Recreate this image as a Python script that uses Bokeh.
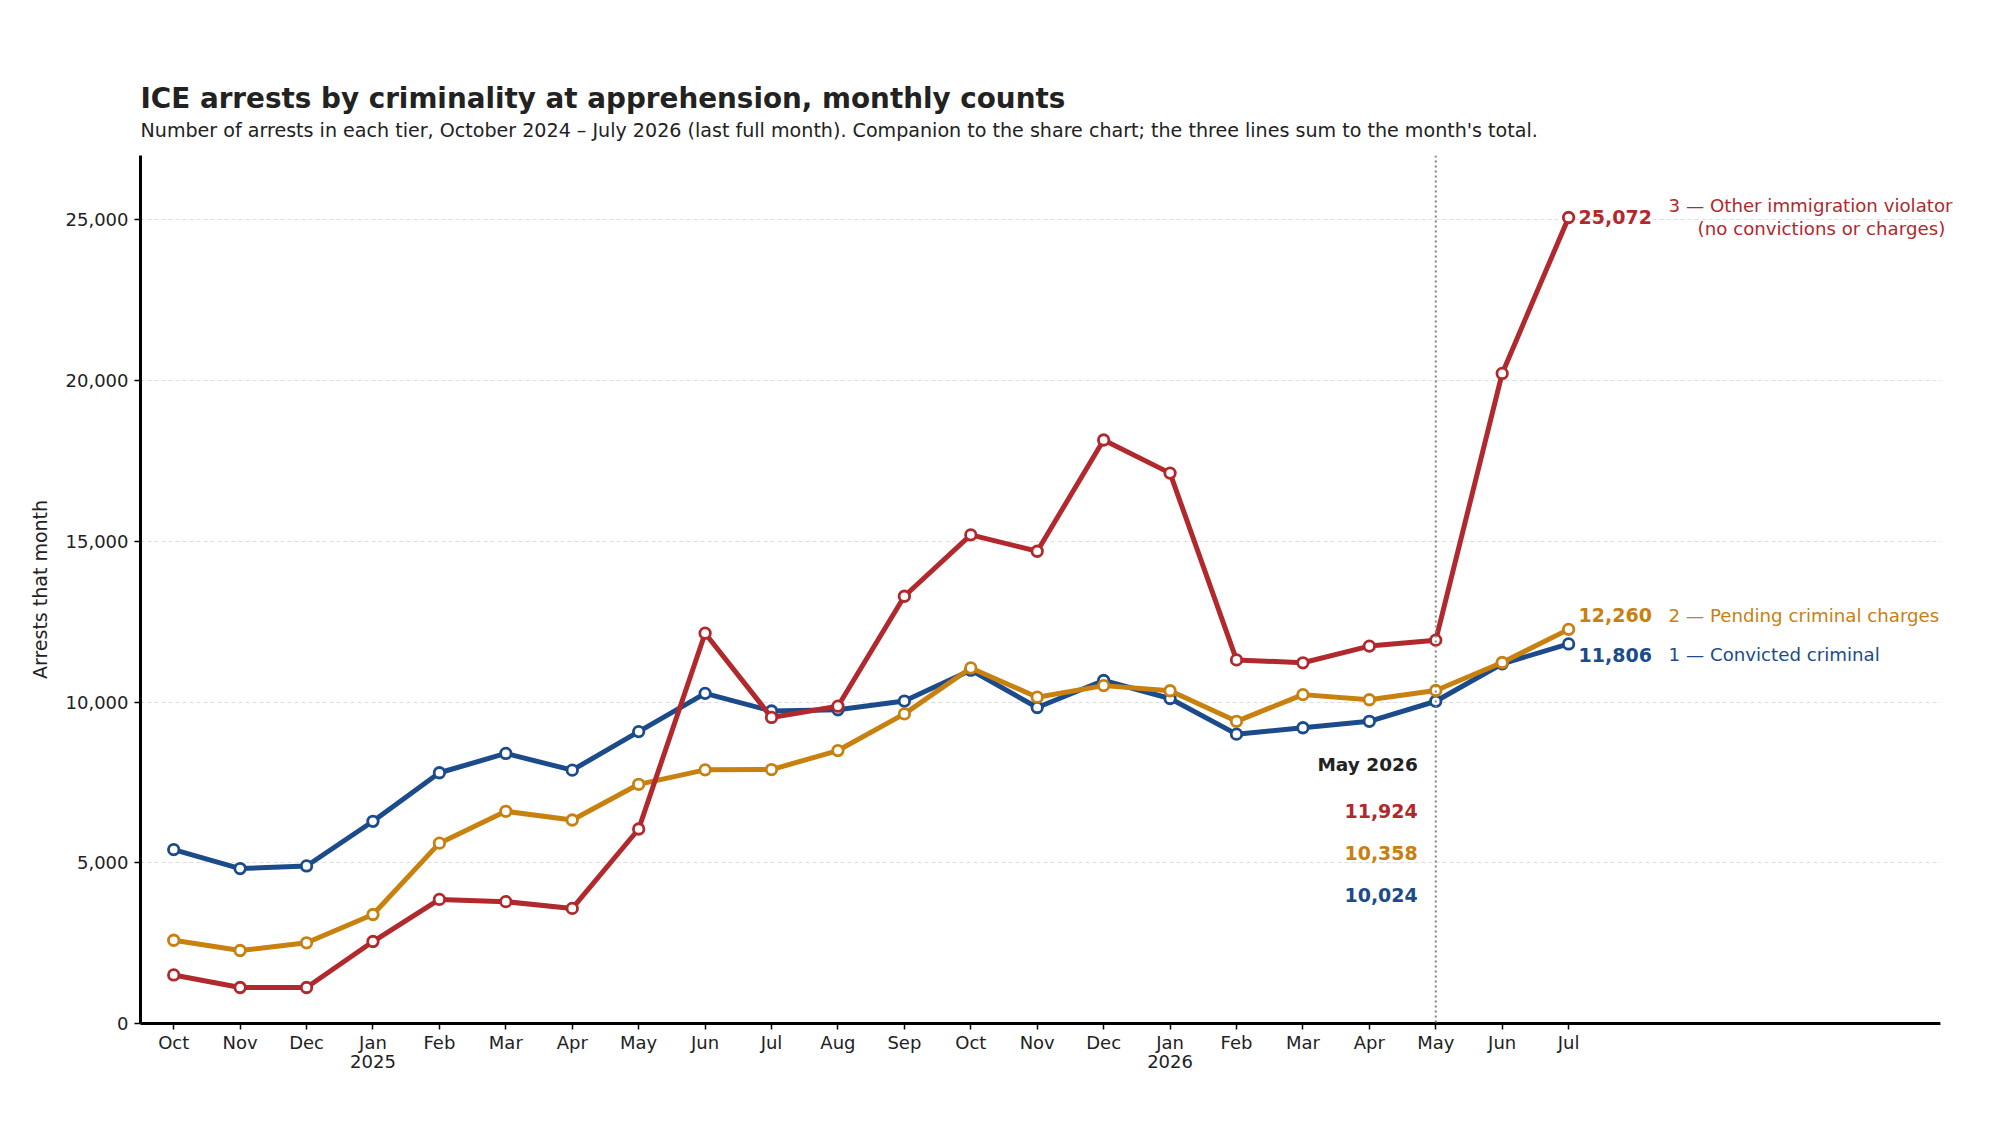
from bokeh.plotting import figure
from bokeh.models import (Range1d, FixedTicker, NumeralTickFormatter, Span, Label, Title,
                          BoxAnnotation)
from bokeh.embed import file_html
from bokeh.resources import INLINE

# monthly counts, Oct 2024 .. Jul 2026
months = ["Oct", "Nov", "Dec", "Jan\n2025", "Feb", "Mar", "Apr", "May", "Jun", "Jul", "Aug", "Sep",
          "Oct", "Nov", "Dec", "Jan\n2026", "Feb", "Mar", "Apr", "May", "Jun", "Jul"]
other = [1510, 1120, 1120, 2550, 3860, 3790, 3580, 6050, 12140, 9520, 9870, 13290,
         15200, 14690, 18150, 17120, 11310, 11220, 11740, 11924, 20220, 25072]
pending = [2590, 2270, 2510, 3390, 5610, 6600, 6330, 7440, 7890, 7900, 8490, 9630,
           11060, 10150, 10510, 10350, 9400, 10230, 10070, 10358, 11230, 12260]
convicted = [5410, 4820, 4900, 6290, 7800, 8400, 7880, 9080, 10270, 9720, 9760, 10030,
             10990, 9830, 10670, 10110, 9000, 9200, 9400, 10024, 11190, 11806]
tier_names = ["3 — Other immigration violator", "2 — Pending criminal charges", "1 — Convicted criminal"]
highlight = 19  # May 2026

FONT = "DejaVu Sans"
RED, ORANGE, BLUE = "#b1282d", "#c8800f", "#1b4b8b"
INK = "#222222"

x = list(range(len(months)))
X_END = 26.6  # where the axis and grid visibly stop; frame runs a bit wider so labels are not clipped

p = figure(width=1984, height=1109, output_backend="svg", toolbar_location=None,
           x_range=Range1d(-0.5, 26.93), y_range=Range1d(0, 27000),
           min_border_left=140, min_border_right=22, min_border_top=155, min_border_bottom=86)
p.outline_line_color = None
p.background_fill_color = "white"

# titles (the one added later sits closer to the plot)
p.title.text = "ICE arrests by criminality at apprehension, monthly counts"
p.title.text_font = FONT
p.title.text_font_size = "27.8px"
p.title.text_font_style = "bold"
p.title.text_color = INK
p.title.standoff = -25
p.add_layout(Title(text=("Number of arrests in each tier, October 2024 – July 2026 (last full month). "
                         "Companion to the share chart; the three lines sum to the month's total."),
                   text_font=FONT, text_font_size="19.1px", text_font_style="normal",
                   text_color=INK, standoff=28), "above")

# axes
p.xgrid.visible = False
p.ygrid.grid_line_color = "#dddddd"
p.ygrid.grid_line_dash = "4 3"
p.ygrid.grid_line_width = 1

p.xaxis.ticker = FixedTicker(ticks=x)
p.xaxis.major_label_overrides = {i: m for i, m in enumerate(months)}
p.xaxis.bounds = (-0.5, X_END)
p.xaxis.major_label_text_line_height = 0.95
p.yaxis.ticker = FixedTicker(ticks=[0, 5000, 10000, 15000, 20000, 25000])
p.yaxis.formatter = NumeralTickFormatter(format="0,0")
p.yaxis.axis_label = "Arrests that month"
p.yaxis.axis_label_text_font = FONT
p.yaxis.axis_label_text_font_size = "19px"
p.yaxis.axis_label_text_font_style = "normal"
p.yaxis.axis_label_text_color = INK
p.yaxis.axis_label_standoff = 12
for ax in (p.xaxis, p.yaxis):
    ax.axis_line_width = 3
    ax.axis_line_color = "black"
    ax.major_tick_line_color = "black"
    ax.major_tick_line_width = 1.5
    ax.major_tick_out = 6
    ax.major_tick_in = 0
    ax.minor_tick_line_color = None
    ax.major_label_text_font = FONT
    ax.major_label_text_font_size = "18px"
    ax.major_label_text_color = INK
p.xaxis.major_label_standoff = 2
p.yaxis.major_label_standoff = 6

# white strip hides the grid beyond the axis end
p.add_layout(BoxAnnotation(left=X_END, fill_color="white", fill_alpha=1, line_color=None))

p.add_layout(Span(location=highlight, dimension="height", line_color="#808080",
                  line_dash="2 3", line_width=2))

series = [(other, RED, 0), (pending, ORANGE, 14), (convicted, BLUE, -11)]
for vals, col, dy in series[::-1]:
    p.line(x, vals, line_color=col, line_width=5)
    p.scatter(x, vals, size=10.5, marker="circle", fill_color="white", line_color=col, line_width=2.8)

# end labels
last = len(months) - 1
for (vals, col, dy), name in zip(series, tier_names):
    p.add_layout(Label(x=last, y=vals[-1], text=f"{vals[-1]:,}", x_offset=10, y_offset=dy,
                       text_font=FONT, text_font_size="19px", text_font_style="bold",
                       text_color=col, text_baseline="middle", text_align="left"))
    if name.startswith("3"):
        p.add_layout(Label(x=last, y=vals[-1], text=name, x_offset=100, y_offset=dy + 12,
                           text_font=FONT, text_font_size="18.2px", text_color=col,
                           text_baseline="middle", text_align="left"))
        p.add_layout(Label(x=last, y=vals[-1], text="(no convictions or charges)", x_offset=129,
                           y_offset=dy - 11, text_font=FONT, text_font_size="18.2px",
                           text_color=col, text_baseline="middle", text_align="left"))
    else:
        p.add_layout(Label(x=last, y=vals[-1], text=name, x_offset=100, y_offset=dy,
                           text_font=FONT, text_font_size="18.2px", text_color=col,
                           text_baseline="middle", text_align="left"))

# highlighted month read-out
anchor_y = 8050
p.add_layout(Label(x=highlight, y=anchor_y, text="May 2026", x_offset=-18,
                   text_font=FONT, text_font_size="18.5px", text_font_style="bold",
                   text_color=INK, text_baseline="middle", text_align="right"))
for k, (vals, col, dy) in enumerate(series):
    p.add_layout(Label(x=highlight, y=anchor_y, text=f"{vals[highlight]:,}", x_offset=-18,
                       y_offset=-46 - 42 * k, text_font=FONT, text_font_size="19px",
                       text_font_style="bold", text_color=col,
                       text_baseline="middle", text_align="right"))

open("out.html", "w").write(file_html(p, INLINE))
